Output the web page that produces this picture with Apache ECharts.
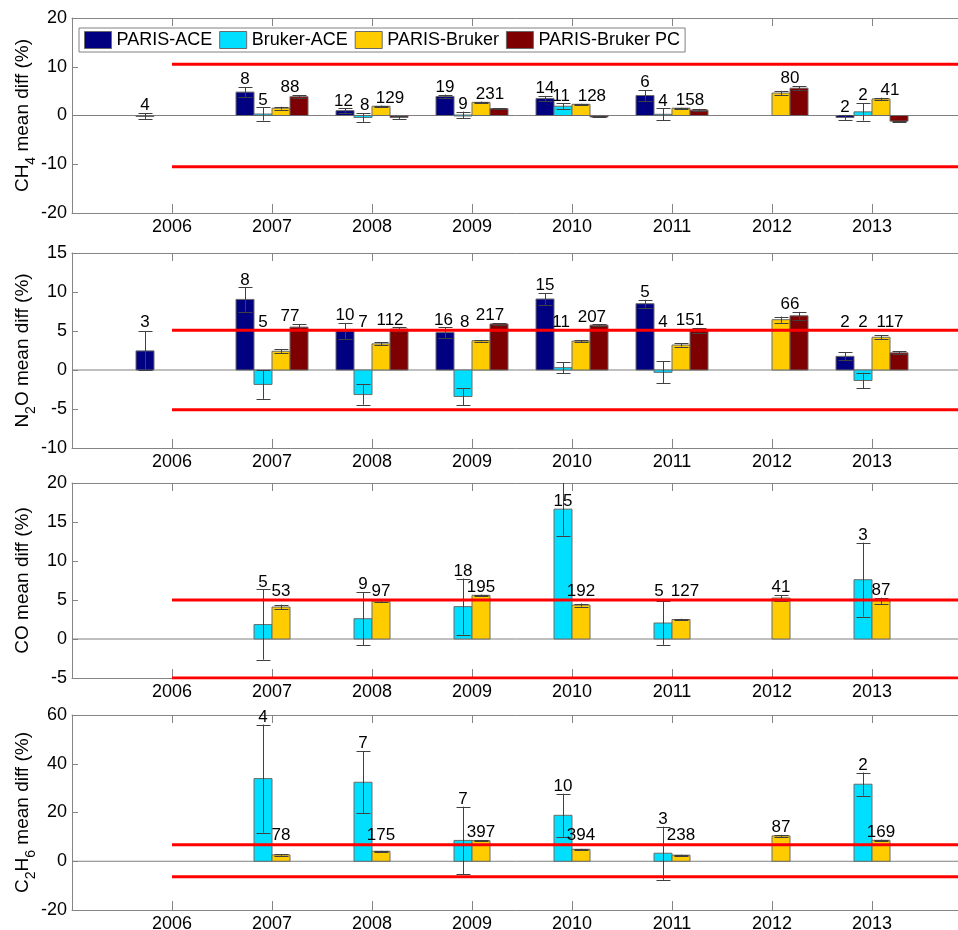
<!DOCTYPE html>
<html>
<head>
<meta charset="utf-8">
<script src="https://cdn.jsdelivr.net/npm/echarts@6/dist/echarts.min.js"></script>
<style>
  html, body { margin: 0; padding: 0; background: #fff; }
  #chart { width: 958px; height: 930px; }
</style>
</head>
<body>
<div id="chart"></div>
<script>
// ---------- data ----------
const years = [2006, 2007, 2008, 2009, 2010, 2011, 2012, 2013];
const seriesNames = ['PARIS-ACE', 'Bruker-ACE', 'PARIS-Bruker', 'PARIS-Bruker PC'];

// CH4 mean differences (%), 1-sigma error and number of coincidences
const ch4ParisAce        = [-0.1, 4.8, 1.0, 3.9, 3.5, 4.1, null, -0.4];
const ch4ParisAceErr     = [0.6, 1.05, 0.45, 0.4, 0.5, 1.1, null, 0.5];
const ch4ParisAceN       = [4, 8, 12, 19, 14, 6, null, 2];
const ch4BrukerAce       = [null, 0.3, -0.4, 0.1, 1.9, 0.25, null, 0.75];
const ch4BrukerAceErr    = [null, 1.35, 0.9, 0.7, 0.6, 1.2, null, 1.8];
const ch4BrukerAceN      = [null, 5, 8, 9, 11, 4, null, 2];
const ch4ParisBruker     = [null, 1.5, 1.9, 2.7, 2.3, 1.5, 4.6, 3.4];
const ch4ParisBrukerErr  = [null, 0.3, 0.15, 0.15, 0.1, 0.1, 0.45, 0.25];
const ch4ParisBrukerPC   = [null, 3.85, -0.4, 1.4, -0.3, 1.1, 5.6, -1.15];
const ch4ParisBrukerPCErr= [null, 0.3, 0.3, 0.1, 0.1, 0.25, 0.4, 0.1];
const ch4ParisBrukerN    = [null, 88, 129, 231, 128, 158, 80, 41];
const ch4Limits          = [10.5, -10.5];

// N2O
const n2oParisAce        = [2.45, 9.05, 5.0, 4.8, 9.1, 8.5, null, 1.75];
const n2oParisAceErr     = [2.5, 1.55, 1.0, 0.65, 0.75, 0.5, null, 0.5];
const n2oParisAceN       = [3, 8, 10, 16, 15, 5, null, 2];
const n2oBrukerAce       = [null, -1.85, -3.15, -3.4, 0.3, -0.3, null, -1.35];
const n2oBrukerAceErr    = [null, 1.85, 1.3, 1.1, 0.7, 1.4, null, 1.0];
const n2oBrukerAceN      = [null, 5, 7, 8, 11, 4, null, 2];
const n2oParisBruker     = [null, 2.4, 3.35, 3.75, 3.7, 3.2, 6.45, 4.2];
const n2oParisBrukerErr  = [null, 0.25, 0.2, 0.1, 0.15, 0.2, 0.4, 0.25];
const n2oParisBrukerPC   = [null, 5.5, 5.25, 5.9, 5.75, 5.05, 6.95, 2.2];
const n2oParisBrukerPCErr= [null, 0.4, 0.2, 0.1, 0.1, 0.3, 0.5, 0.2];
const n2oParisBrukerN    = [null, 77, 112, 217, 207, 151, 66, 117];
const n2oLimits          = [5.1, -5.1];

// CO
const coBrukerAce        = [null, 1.85, 2.6, 4.15, 16.65, 2.05, null, 7.6];
const coBrukerAceErr     = [null, 4.5, 3.4, 3.6, 3.4, 2.8, null, 4.75];
const coBrukerAceN       = [null, 5, 9, 18, 15, 5, null, 3];
const coParisBruker      = [null, 4.1, 4.85, 5.6, 4.35, 2.5, 5.25, 4.9];
const coParisBrukerErr   = [null, 0.3, 0.15, 0.1, 0.2, 0.1, 0.4, 0.4];
const coParisBrukerN     = [null, 53, 97, 195, 192, 127, 41, 87];
const coLimits           = [5, -5];

// C2H6
const c2h6BrukerAce      = [null, 33.9, 32.4, 8.55, 18.85, 3.3, null, 31.6];
const c2h6BrukerAceErr   = [null, 22.2, 12.75, 13.85, 8.85, 10.9, null, 4.8];
const c2h6BrukerAceN     = [null, 4, 7, 7, 10, 3, null, 2];
const c2h6ParisBruker    = [null, 2.6, 4.1, 8.45, 4.9, 2.5, 10.4, 8.6];
const c2h6ParisBrukerErr = [null, 0.3, 0.2, 0.3, 0.2, 0.2, 0.4, 0.3];
const c2h6ParisBrukerN   = [null, 78, 175, 397, 394, 238, 87, 169];
const c2h6Limits         = [6.8, -6.4];

// ---------- styling / layout ----------
const FONT = '"Liberation Sans", Arial, Helvetica, sans-serif';
const AXIS_COLOR = '#858585';
const ERR_COLOR = '#404040';
const COLORS = { pa: '#000080', ba: '#00dfff', pb: '#ffcc00', pc: '#7f0000' };
const OFFSETS = { pa: -0.27, ba: -0.09, pb: 0.09, pc: 0.27 };
const BAR_W = 0.18;
const CAP_PX = 14;
const X_MIN = 2005, X_MAX = 2014;
const PLOT_H = 195, PX_PER_YEAR = 100;
const DIGIT_PX = 9.5, LABEL_GAP_PX = 7;

const panels = [
  { top: 18, min: -20, max: 20, interval: 10, floor: null, limits: ch4Limits,
    title: '{a|CH}{s|4}{a| mean diff (%)}',
    sets: [
      { key: 'pa', v: ch4ParisAce, e: ch4ParisAceErr, n: ch4ParisAceN, label: 'own' },
      { key: 'ba', v: ch4BrukerAce, e: ch4BrukerAceErr, n: ch4BrukerAceN, label: 'own' },
      { key: 'pb', v: ch4ParisBruker, e: ch4ParisBrukerErr, n: null, label: 'none' },
      { key: 'pc', v: ch4ParisBrukerPC, e: ch4ParisBrukerPCErr, n: ch4ParisBrukerN, label: 'pair' }
    ] },
  { top: 253, min: -10, max: 15, interval: 5, floor: 5.2, limits: n2oLimits,
    title: '{a|N}{s|2}{a|O mean diff (%)}',
    sets: [
      { key: 'pa', v: n2oParisAce, e: n2oParisAceErr, n: n2oParisAceN, label: 'own' },
      { key: 'ba', v: n2oBrukerAce, e: n2oBrukerAceErr, n: n2oBrukerAceN, label: 'own' },
      { key: 'pb', v: n2oParisBruker, e: n2oParisBrukerErr, n: null, label: 'none' },
      { key: 'pc', v: n2oParisBrukerPC, e: n2oParisBrukerPCErr, n: n2oParisBrukerN, label: 'pair' }
    ] },
  { top: 483, min: -5, max: 20, interval: 5, floor: 5.2, limits: coLimits,
    title: '{a|CO mean diff (%)}',
    sets: [
      { key: 'ba', v: coBrukerAce, e: coBrukerAceErr, n: coBrukerAceN, label: 'own' },
      { key: 'pb', v: coParisBruker, e: coParisBrukerErr, n: coParisBrukerN, label: 'own' }
    ] },
  { top: 715, min: -20, max: 60, interval: 20, floor: 7.4, limits: c2h6Limits,
    title: '{a|C}{s|2}{a|H}{s|6}{a| mean diff (%)}',
    sets: [
      { key: 'ba', v: c2h6BrukerAce, e: c2h6BrukerAceErr, n: c2h6BrukerAceN, label: 'own' },
      { key: 'pb', v: c2h6ParisBruker, e: c2h6ParisBrukerErr, n: c2h6ParisBrukerN, label: 'own' }
    ] }
];

const keyName = { pa: seriesNames[0], ba: seriesNames[1], pb: seriesNames[2], pc: seriesNames[3] };

// top of a bar's error bar (or of the bar itself when the error runs off the axis)
function errTop(panel, v, e) {
  const top = v + e;
  return top > panel.max ? v : top;
}

// Where each count label sits: x in years, base in data units.
// Labels of one year group at the same height are nudged apart when they would touch.
function layoutLabels(panel) {
  const pbSet = panel.sets.find(s => s.key === 'pb');
  const pxPerUnit = PLOT_H / (panel.max - panel.min);
  panel.labels = {};
  years.forEach(function (year, i) {
    const group = [];
    panel.sets.forEach(function (set) {
      if (set.label === 'none' || !set.n || set.n[i] == null) return;
      let x, base;
      if (set.label === 'own') {
        x = year + OFFSETS[set.key];
        base = errTop(panel, set.v[i], set.e[i]);
      } else {
        x = year + (OFFSETS.pb + OFFSETS.pc) / 2;
        base = Math.max(errTop(panel, set.v[i], set.e[i]), errTop(panel, pbSet.v[i], pbSet.e[i]));
      }
      if (panel.floor != null) base = Math.max(base, panel.floor);
      const text = String(set.n[i]);
      group.push({ key: set.key, x: x, base: base, text: text, w: text.length * DIGIT_PX / PX_PER_YEAR });
    });
    group.sort((a, b) => a.x - b.x);
    for (let k = 1; k < group.length; k++) {
      const a = group[k - 1], b = group[k];
      if (Math.abs(a.base - b.base) * pxPerUnit > 6) continue;
      const need = (a.w + b.w) / 2 + LABEL_GAP_PX / PX_PER_YEAR;
      const dx = b.x - a.x;
      if (dx < need) {
        a.x -= (need - dx) / 2;
        b.x += (need - dx) / 2;
      }
    }
    group.forEach(function (lab) { panel.labels[lab.key + '-' + i] = lab; });
  });
}

function makeRenderer(panel, set) {
  return function (params, api) {
    const i = api.value(3);
    const v = set.v[i], e = set.e[i];
    const xc = years[i] + OFFSETS[set.key];
    const p0 = api.coord([xc - BAR_W / 2, Math.max(v, 0)]);
    const p1 = api.coord([xc + BAR_W / 2, Math.min(v, 0)]);
    const children = [{
      type: 'rect',
      shape: { x: p0[0], y: p0[1], width: p1[0] - p0[0], height: Math.max(p1[1] - p0[1], 1) },
      style: { fill: COLORS[set.key], stroke: '#6a6a6a', lineWidth: 1 }
    }];
    // error bar (clipped to the axis range)
    const hiV = Math.min(v + e, panel.max), loV = Math.max(v - e, panel.min);
    const pHi = api.coord([xc, hiV]), pLo = api.coord([xc, loV]);
    const cx = Math.round(pHi[0]) + 0.5;
    children.push({ type: 'line', shape: { x1: cx, y1: pHi[1], x2: cx, y2: pLo[1] },
      style: { stroke: ERR_COLOR, lineWidth: 1 } });
    if (v + e <= panel.max) {
      const y = Math.round(pHi[1]) + 0.5;
      children.push({ type: 'line', shape: { x1: cx - CAP_PX / 2, y1: y, x2: cx + CAP_PX / 2, y2: y },
        style: { stroke: ERR_COLOR, lineWidth: 1 } });
    }
    if (v - e >= panel.min) {
      const y = Math.round(pLo[1]) + 0.5;
      children.push({ type: 'line', shape: { x1: cx - CAP_PX / 2, y1: y, x2: cx + CAP_PX / 2, y2: y },
        style: { stroke: ERR_COLOR, lineWidth: 1 } });
    }
    // count label
    const lab = panel.labels[set.key + '-' + i];
    if (lab) {
      const p = api.coord([lab.x, lab.base]);
      children.push({ type: 'text', x: p[0], y: p[1] - 7.5,
        style: { text: lab.text, align: 'center', verticalAlign: 'middle',
          fontSize: 17, fontFamily: FONT, fill: '#000' } });
    }
    return { type: 'group', children: children };
  };
}

const grid = [], xAxis = [], yAxis = [], series = [];
panels.forEach(function (panel, p) {
  layoutLabels(panel);
  grid.push({ left: 72, top: panel.top, width: 900, height: PLOT_H, outerBoundsMode: 'none', containLabel: false });
  const yearLabel = function (val) { return (val >= years[0] && val <= years[years.length - 1]) ? String(val) : ''; };
  xAxis.push({
    type: 'value', gridIndex: p, min: X_MIN, max: X_MAX, interval: 1, position: 'bottom',
    axisLine: { show: true, onZero: false, lineStyle: { color: AXIS_COLOR } },
    axisTick: { show: true, inside: true, length: 9, lineStyle: { color: AXIS_COLOR } },
    axisLabel: { formatter: yearLabel, fontSize: 18, color: '#000', fontFamily: FONT, margin: 5,
      showMinLabel: true, showMaxLabel: true },
    splitLine: { show: false }
  });
  xAxis.push({
    type: 'value', gridIndex: p, min: X_MIN, max: X_MAX, interval: 1, position: 'top',
    axisLine: { show: true, onZero: false, lineStyle: { color: AXIS_COLOR } },
    axisTick: { show: true, inside: true, length: 8, lineStyle: { color: AXIS_COLOR } },
    axisLabel: { show: false }, splitLine: { show: false }
  });
  yAxis.push({
    type: 'value', gridIndex: p, min: panel.min, max: panel.max, interval: panel.interval,
    axisLine: { show: true, onZero: false, lineStyle: { color: AXIS_COLOR } },
    axisTick: { show: true, inside: true, length: 6, lineStyle: { color: AXIS_COLOR } },
    axisLabel: { fontSize: 18, color: '#000', fontFamily: FONT, margin: 5, showMinLabel: true, showMaxLabel: true },
    splitLine: { show: false },
    name: panel.title, nameLocation: 'middle', nameRotate: 90, nameGap: 34, nameMoveOverlap: false,
    nameTextStyle: {
      rich: {
        a: { fontSize: 19, fontFamily: FONT, color: '#000', lineHeight: 30, verticalAlign: 'middle' },
        s: { fontSize: 14, fontFamily: FONT, color: '#000', lineHeight: 14, verticalAlign: 'bottom' }
      }
    }
  });

  // zero line
  series.push({
    type: 'line', name: 'zero', xAxisIndex: 2 * p, yAxisIndex: p, z: 1, silent: true,
    data: [[X_MIN, 0], [X_MAX, 0]], showSymbol: false, symbol: 'none',
    lineStyle: { color: '#808080', width: 1 }
  });

  panel.sets.forEach(function (set) {
    const data = [];
    years.forEach(function (y, i) {
      if (set.v[i] != null) data.push([y + OFFSETS[set.key], set.v[i], set.e[i], i]);
    });
    series.push({
      type: 'custom', name: keyName[set.key], xAxisIndex: 2 * p, yAxisIndex: p, z: 3,
      itemStyle: { color: COLORS[set.key] },
      encode: { x: 0, y: 1 },
      renderItem: makeRenderer(panel, set),
      data: data
    });
  });

  // red limit lines
  panel.limits.forEach(function (lim) {
    series.push({
      type: 'line', name: 'limit', xAxisIndex: 2 * p, yAxisIndex: p, z: 5, silent: true,
      data: [[years[0], lim], [X_MAX, lim]], showSymbol: false, symbol: 'none',
      lineStyle: { color: '#ff0000', width: 3 }
    });
  });
});

const chart = echarts.init(document.getElementById('chart'), null, { renderer: 'canvas' });
chart.setOption({
  animation: false,
  backgroundColor: '#ffffff',
  textStyle: { fontFamily: FONT },
  grid: grid, xAxis: xAxis, yAxis: yAxis,
  legend: {
    data: seriesNames, left: 79, top: 28, orient: 'horizontal',
    itemWidth: 27, itemHeight: 17, itemGap: 7, padding: [3, 5, 3, 5],
    borderColor: '#808080', borderWidth: 1, backgroundColor: '#ffffff',
    icon: 'rect', selectedMode: false,
    itemStyle: { borderColor: '#6a6a6a', borderWidth: 1 },
    textStyle: { fontSize: 18, color: '#000', fontFamily: FONT }
  },
  series: series
});
</script>
</body>
</html>
